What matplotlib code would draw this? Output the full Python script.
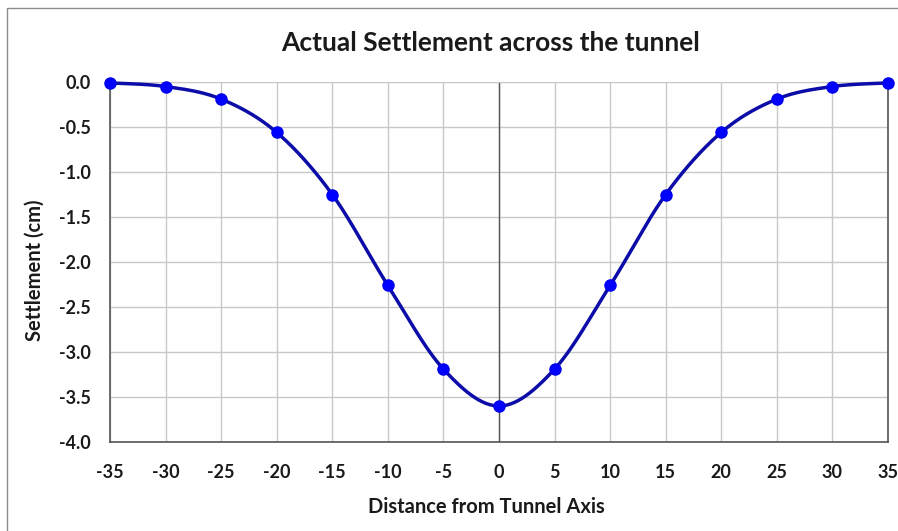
import numpy as np
import matplotlib
matplotlib.use("Agg")
import matplotlib.pyplot as plt
from matplotlib.patches import Rectangle

distance = [-35, -30, -25, -20, -15, -10, -5, 0, 5, 10, 15, 20, 25, 30, 35]
settlement = [-0.01, -0.05, -0.19, -0.56, -1.25, -2.26, -3.19, -3.60,
              -3.19, -2.26, -1.25, -0.56, -0.19, -0.05, -0.01]
x_ticks = list(range(-35, 36, 5))
y_ticks = [0.0, -0.5, -1.0, -1.5, -2.0, -2.5, -3.0, -3.5, -4.0]

title = "Actual Settlement across the tunnel"
xlabel = "Distance from Tunnel Axis"
ylabel = "Settlement (cm)"


def smooth(xs, ys, n=30):
    # Catmull-Rom style smoothing (like Excel's smoothed line)
    xs = np.asarray(xs, float)
    ys = np.asarray(ys, float)
    px = np.concatenate([[xs[0]], xs, [xs[-1]]])
    py = np.concatenate([[ys[0]], ys, [ys[-1]]])
    ox, oy = [], []
    t = np.linspace(0, 1, n)
    for i in range(1, len(px) - 2):
        p0x, p1x, p2x, p3x = px[i - 1], px[i], px[i + 1], px[i + 2]
        p0y, p1y, p2y, p3y = py[i - 1], py[i], py[i + 1], py[i + 2]
        c1x = p1x + (p2x - p0x) / 6
        c1y = p1y + (p2y - p0y) / 6
        c2x = p2x - (p3x - p1x) / 6
        c2y = p2y - (p3y - p1y) / 6
        bx = (1 - t) ** 3 * p1x + 3 * (1 - t) ** 2 * t * c1x + 3 * (1 - t) * t ** 2 * c2x + t ** 3 * p2x
        by = (1 - t) ** 3 * p1y + 3 * (1 - t) ** 2 * t * c1y + 3 * (1 - t) * t ** 2 * c2y + t ** 3 * p2y
        ox.extend(bx)
        oy.extend(by)
    return np.array(ox), np.array(oy)


plt.rcParams['font.family'] = ['Lato', 'DejaVu Sans']

fig = plt.figure(figsize=(8.98, 5.31), dpi=100)
fig.patch.set_facecolor("white")

# outer chart frame
fig.patches.append(Rectangle((7 / 898, -0.05), 1.2, 1 - 8 / 531 + 0.05,
                             transform=fig.transFigure, fill=False,
                             edgecolor="#8c8c8c", linewidth=1.0))

ax = fig.add_axes([110 / 898, 89 / 531, 778 / 898, 360 / 531])
ax.set_xlim(-35, 35)
ax.set_ylim(-4.0, 0.0)
ax.set_xticks(x_ticks)
ax.set_yticks(y_ticks)
ax.set_xticklabels([str(v) for v in x_ticks])
ax.set_yticklabels([f"{v:.1f}" for v in y_ticks])
ax.grid(True, color="#c8c8c8", linewidth=1.0)
ax.set_axisbelow(True)
ax.tick_params(length=0, labelsize=13, pad=14)
ax.tick_params(axis="x", pad=16)
for lab in ax.get_xticklabels() + ax.get_yticklabels():
    lab.set_fontweight("bold")
    lab.set_color("#1a1a1a")

for side in ["left", "bottom", "right"]:
    ax.spines[side].set_color("#555555")
    ax.spines[side].set_linewidth(1.2)
ax.spines["top"].set_color("#c8c8c8")
ax.axvline(0, color="#555555", linewidth=1.0, zorder=1.5)

sx, sy = smooth(distance, settlement)
ax.plot(sx, sy, color="#0c0ca8", linewidth=2.5, zorder=3, clip_on=False)
ax.plot(distance, settlement, linestyle="none", marker="o", markersize=8,
        color="#0000ff", markeredgecolor="#0000ee", zorder=4, clip_on=False)

fig.text(491 / 898, 1 - 43 / 531, title, ha="center", va="center",
         fontsize=19, fontweight="bold", color="#1a1a1a")
fig.text(486 / 898, 1 - 507 / 531, xlabel, ha="center", va="center",
         fontsize=14.5, fontweight="bold", color="#1a1a1a")
fig.text(35 / 898, 1 - 270 / 531, ylabel, ha="center", va="center",
         rotation=90, fontsize=14.5, fontweight="bold", color="#1a1a1a")

fig.savefig("out.png", dpi=100)
